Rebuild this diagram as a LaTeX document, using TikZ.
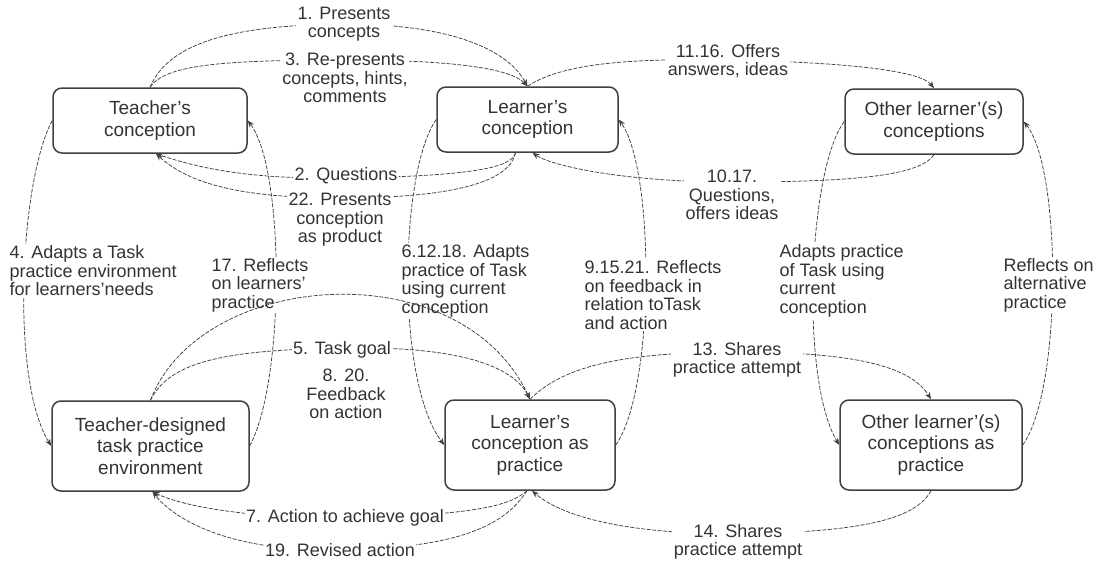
\documentclass[tikz,border=0pt]{standalone}
\usepackage{fontspec}
\setmainfont{Liberation Sans}
\usetikzlibrary{arrows.meta}
\newcommand\bxfont{\fontsize{19}{21.5}\selectfont}
\newcommand\lbfont{\fontsize{18}{18.5}\selectfont}
\begin{document}
\begin{tikzpicture}[x=1pt,y=-1pt,
  box/.style={draw=black!75, line width=1.5pt, rounded corners=9pt, fill=white,
    align=center, font=\bxfont, text=black!80, inner sep=0pt},
  lbl/.style={fill=white, inner sep=1.5pt, font=\lbfont, text=black!80, align=center},
  lbll/.style={lbl, align=left, anchor=west},
  link/.style={draw=black!75, line width=0.75pt, dash pattern=on 4pt off 1.5pt,
    -{Stealth[length=7pt,width=5.5pt]}},
  plainlink/.style={link, -}]
\useasboundingbox (0,0) rectangle (1102,562);

% conceptions (top row)
\node[box, minimum width=194pt, minimum height=65pt] (tc) at (150,120.5) {Teacher’s\\conception};
\node[box, minimum width=181pt, minimum height=65pt] (lc) at (527.5,119.5) {Learner’s\\conception};
\node[box, minimum width=178pt, minimum height=65pt] (oc) at (934,121.5) {Other learner’(s)\\conceptions};
% practice (bottom row)
\node[box, minimum width=197pt, minimum height=90pt] (tde) at (150.5,446) {Teacher-designed\\task practice\\environment};
\node[box, minimum width=170pt, minimum height=90pt] (lp) at (530,445) {Learner’s\\conception as\\practice};
\node[box, minimum width=182pt, minimum height=90pt] (op) at (931,445) {Other learner’(s)\\conceptions as\\practice};

% connectors between the conceptions
\draw[link] (tc.north) .. controls (170,40) and (240,25) .. (345,24) .. controls (440,24) and (505,45) .. (lc.north);
\draw[link] (tc.north) .. controls (165,65) and (220,60) .. (345,60) .. controls (450,60) and (510,68) .. (lc.north);
\draw[link] (lc.north) .. controls (560,65) and (620,58) .. (727,60) .. controls (840,62) and (920,70) .. (oc.north);
\draw[link] ([xshift=-12pt]lc.south) .. controls (512,168) and (470,176) .. (347,178) .. controls (240,180) and (190,165) .. ([xshift=6pt]tc.south);
\draw[link] ([xshift=-12pt]lc.south) .. controls (510,180) and (460,198) .. (340,198) .. controls (230,198) and (185,180) .. ([xshift=6pt]tc.south);
\draw[link] (oc.south) .. controls (920,175) and (860,182) .. (732,182) .. controls (620,182) and (550,165) .. ([xshift=5pt]lc.south);

% vertical links between conception and practice
\draw[link] (tc.west) .. controls (20,180) and (10,380) .. (tde.west);
\draw[link] (tde.east) .. controls (285,380) and (285,170) .. (tc.east);
\draw[link] (lc.west) .. controls (400,170) and (395,380) .. (lp.west);
\draw[link] (lp.east) .. controls (655,390) and (655,170) .. (lc.east);
\draw[link] (oc.west) .. controls (808,170) and (800,380) .. (op.west);
\draw[link] (op.east) .. controls (1062,390) and (1062,170) .. (oc.east);

% connectors between the practices
\draw[link] (tde.north) .. controls (170,360) and (230,350) .. (342,348) .. controls (440,346) and (510,360) .. (lp.north);
\draw[link] (lp.north) .. controls (560,370) and (610,352) .. (737,352) .. controls (850,352) and (910,365) .. (op.north);
\draw[link] (op.south) .. controls (915,520) and (860,532) .. (738,534) .. controls (620,534) and (560,515) .. ([xshift=2pt]lp.south);
\draw[link] ([xshift=-3pt]lp.south) .. controls (510,505) and (480,515) .. (345,518) .. controls (240,518) and (180,505) .. ([xshift=2pt]tde.south);
\draw[link] ([xshift=-3pt]lp.south) .. controls (505,525) and (460,548) .. (340,550) .. controls (230,552) and (175,520) .. ([xshift=2pt]tde.south);

% labels
\node[lbl] (l1) at (344,24) {1. Presents\\concepts};
\node[lbl] (l3) at (345,78) {3. Re-presents\\concepts, hints,\\comments};
\node[lbl] (l2) at (346,176) {2. Questions};
\node[lbl] (l22) at (340,220) {22. Presents\\conception\\as product};
\node[lbl] (l1116) at (728,61) {11.16. Offers\\answers, ideas};
\node[lbl] (l1017) at (732,195) {10.17.\\Questions,\\offers ideas};
\node[lbll] (l4) at (8,271) {4. Adapts a Task\\practice environment\\for learners’needs};
\node[lbll] (l17) at (210,285) {17. Reflects\\on learners’\\practice};
\node[lbl] (l5) at (342,350) {5. Task goal};
\node[lbl] (l820) at (346,394) {8. 20.\\Feedback\\on action};
\node[lbll] (l61218) at (400,281) {6.12.18. Adapts\\practice of Task\\using current\\conception};
\node[lbll] (l91521) at (583,295) {9.15.21. Reflects\\on feedback in\\relation toTask\\and action};
\node[lbll] (ladapt) at (778,281) {Adapts practice\\of Task using\\current\\conception};
\node[lbll] (lrefl) at (1002,285) {Reflects on\\alternative\\practice};
\node[lbl] (l13) at (737,360) {13. Shares\\practice attempt};
\node[lbl] (l7) at (345,518) {7. Action to achieve goal};
\node[lbl] (l19) at (340,550) {19. Revised action};
\node[lbl] (l14) at (738,542) {14. Shares\\practice attempt};

% long arc over the labels
\draw[link] (tde.north) .. controls (200,270) and (460,250) .. (lp.north);
\end{tikzpicture}
\end{document}
